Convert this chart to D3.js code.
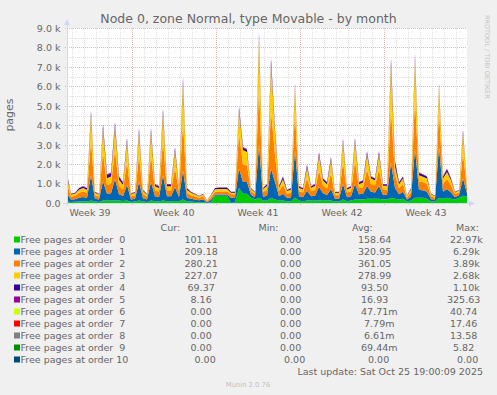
<!DOCTYPE html>
<html>
<head>
<meta charset="utf-8">
<script src="https://cdn.jsdelivr.net/npm/d3@7"></script>
<style>
  body { margin: 0; background: #f0f0f0; }
  svg { display: block; font-family: "DejaVu Sans", sans-serif; }
  text { fill: #666; white-space: pre; }
</style>
</head>
<body>
<svg width="497" height="395"></svg>
<script>
// one sample every 8 hours, starting at the left edge of the graph
const startTime = new Date(Date.UTC(2025, 8, 23, 14));
const endTime = new Date(Date.UTC(2025, 9, 26, 22));
const stepHours = 8;

// free pages per order (pages)
const order0 = [
  100, 80, 90, 100, 120, 100, 150, 100, 80, 150,
  150, 150, 150, 150, 130, 150, 80, 100, 150, 100,
  80, 150, 120, 120, 150, 120, 120, 130, 120, 200,
  100, 100, 80, 70, 80, 30, 80, 400, 400, 400,
  400, 20, 50, 800, 500, 500, 300, 200, 300, 150,
  150, 300, 200, 150, 150, 120, 120, 300, 150, 120,
  150, 150, 150, 150, 180, 160, 150, 100, 100, 200,
  120, 150, 200, 200, 200, 250, 250, 250, 250, 200,
  200, 300, 250, 200, 250, 100, 150, 300, 300, 300,
  250, 100, 100, 300, 250, 300, 250, 200, 300, 400,
  350
];
const order1 = [
  400, 120, 130, 200, 220, 200, 1300, 150, 120, 1000,
  350, 380, 1100, 330, 260, 800, 120, 150, 950, 170,
  120, 950, 250, 220, 1300, 250, 250, 700, 220, 1500,
  200, 150, 120, 100, 120, 40, 110, 60, 60, 60,
  60, 280, 250, 1000, 600, 600, 150, 120, 2700, 200,
  250, 1500, 900, 220, 350, 170, 200, 2400, 220, 200,
  500, 220, 250, 700, 350, 280, 600, 150, 150, 800,
  200, 220, 800, 280, 300, 650, 350, 320, 650, 250,
  250, 1800, 550, 280, 350, 100, 200, 2500, 400, 380,
  350, 120, 100, 2600, 350, 450, 320, 120, 130, 900,
  180
];
const order2 = [
  500, 160, 170, 250, 280, 250, 1800, 180, 160, 1500,
  450, 480, 1500, 420, 330, 1200, 160, 180, 1400, 220,
  160, 1400, 300, 280, 1800, 300, 300, 1000, 280, 2500,
  250, 180, 160, 120, 160, 40, 140, 150, 160, 160,
  160, 180, 180, 1800, 900, 850, 180, 150, 3000, 250,
  300, 3000, 1400, 260, 450, 210, 240, 2000, 260, 240,
  650, 260, 300, 850, 400, 330, 800, 180, 180, 1150,
  240, 260, 1200, 300, 340, 850, 400, 370, 850, 270,
  270, 2800, 650, 300, 400, 100, 230, 2600, 450, 420,
  400, 150, 100, 1900, 400, 520, 370, 150, 150, 1300,
  200
];
const order3 = [
  350, 100, 110, 160, 180, 160, 1320, 120, 100, 1220,
  350, 380, 1220, 320, 250, 1050, 100, 120, 1170, 150,
  100, 1170, 220, 180, 1400, 220, 220, 900, 180, 2020,
  160, 120, 100, 80, 100, 30, 90, 120, 120, 120,
  120, 70, 70, 1200, 750, 700, 120, 100, 2470, 150,
  200, 2380, 1200, 180, 300, 140, 160, 1300, 180, 160,
  550, 180, 200, 780, 250, 220, 700, 120, 120, 1020,
  160, 180, 1020, 210, 240, 780, 280, 250, 780, 190,
  190, 2280, 450, 210, 280, 70, 150, 2020, 300, 280,
  280, 100, 70, 1200, 280, 350, 250, 90, 90, 1020,
  130
];
const order4 = [
  120, 30, 40, 70, 80, 70, 180, 40, 30, 180,
  150, 160, 180, 130, 100, 150, 30, 40, 180, 50,
  30, 180, 80, 80, 200, 80, 80, 130, 80, 220,
  70, 40, 30, 20, 30, 10, 30, 70, 80, 80,
  80, 50, 50, 150, 120, 120, 40, 25, 250, 40,
  80, 250, 150, 70, 120, 50, 60, 150, 70, 60,
  120, 70, 80, 130, 100, 90, 120, 40, 40, 140,
  60, 70, 140, 90, 100, 130, 100, 90, 130, 70,
  70, 250, 250, 90, 100, 30, 60, 220, 120, 100,
  100, 30, 30, 150, 100, 140, 90, 30, 30, 140,
  30
];
const order5 = [
  30, 10, 10, 20, 20, 20, 50, 10, 10, 50,
  50, 50, 50, 50, 30, 50, 10, 10, 50, 10,
  10, 50, 30, 20, 50, 30, 30, 40, 20, 60,
  20, 10, 10, 10, 10, 0, 0, 0, 0, 0,
  0, 0, 0, 50, 30, 30, 10, 5, 80, 10,
  20, 70, 50, 20, 30, 10, 20, 50, 20, 20,
  30, 20, 20, 40, 20, 20, 30, 10, 10, 40,
  20, 20, 40, 20, 20, 40, 20, 20, 40, 20,
  20, 70, 50, 20, 20, 0, 10, 60, 30, 20,
  20, 0, 0, 50, 20, 40, 20, 10, 0, 40,
  10
];
// orders 6 to 10 stay at zero for the whole month

const seriesNames = [
  "Free pages at order  0", "Free pages at order  1", "Free pages at order  2",
  "Free pages at order  3", "Free pages at order  4", "Free pages at order  5",
  "Free pages at order  6", "Free pages at order  7", "Free pages at order  8",
  "Free pages at order  9", "Free pages at order 10"
];
const seriesColors = [
  "#00cc00", "#0066b3", "#ff8000", "#ffcc00", "#330099", "#990099",
  "#ccff00", "#ff0000", "#808080", "#008f00", "#00487d"
];
const curValues = ["101.11", "209.18", "280.21", "227.07", " 69.37", "  8.16",
  "  0.00", "  0.00", "  0.00", "  0.00", "  0.00"];
const minValues = ["  0.00", "  0.00", "  0.00", "  0.00", "  0.00", "  0.00",
  "  0.00", "  0.00", "  0.00", "  0.00", "  0.00"];
const avgValues = ["158.64", "320.95", "361.05", "278.99", " 93.50", " 16.93",
  " 47.71m", "  7.79m", "  6.61m", " 69.44m", "  0.00"];
const maxValues = [" 22.97k", "  6.29k", "  3.89k", "  2.68k", "  1.10k", "325.63",
  " 40.74", " 17.46", " 13.58", "  5.82", "  0.00"];

const yTicks = [0, 1000, 2000, 3000, 4000, 5000, 6000, 7000, 8000, 9000];
const yTickLabels = ["0.0", "1.0 k", "2.0 k", "3.0 k", "4.0 k", "5.0 k",
  "6.0 k", "7.0 k", "8.0 k", "9.0 k"];
const weekLabels = ["Week 39", "Week 40", "Week 41", "Week 42", "Week 43"];

const svg = d3.select("svg");

const x = d3.scaleUtc().domain([startTime, endTime]).range([67, 467]);
const y = d3.scaleLinear().domain([0, 9000]).range([203.5, 28.5]);

// table for the stack
const stacked = [order0, order1, order2, order3, order4, order5];
const keys = seriesNames.slice(0, stacked.length);
const table = order0.map((v, i) => {
  const row = { time: d3.utcHour.offset(startTime, i * stepHours) };
  keys.forEach((k, j) => { row[k] = stacked[j][i]; });
  return row;
});
const series = d3.stack().keys(keys)(table);

// canvas
svg.append("rect")
  .attr("x", 67).attr("y", 28)
  .attr("width", 400).attr("height", 175.5)
  .attr("fill", "#fff");

// grid
const majorGrid = "#ebb4b4", minorGrid = "#dddddd";
const grid = svg.append("g").attr("shape-rendering", "crispEdges").attr("stroke-dasharray", "1,1");
const days = d3.utcDay.range(startTime, endTime);
const mondays = d3.utcMonday.range(startTime, endTime);
grid.selectAll(".vgrid").data(days).join("line")
  .attr("x1", d => x(d)).attr("x2", d => x(d))
  .attr("y1", 28).attr("y2", 205.5)
  .attr("stroke", d => d3.utcMonday(d) - d === 0 ? majorGrid : minorGrid);
const yMinor = d3.range(500, 9001, 500);
grid.selectAll(".hgrid").data(yMinor).join("line")
  .attr("x1", 65).attr("x2", 467)
  .attr("y1", d => y(d)).attr("y2", d => y(d))
  .attr("stroke", d => d % 1000 === 0 ? majorGrid : minorGrid);

// stacked areas
const area = d3.area()
  .x(d => x(d.data.time))
  .y0(d => y(d[0]))
  .y1(d => y(d[1]));
svg.append("g").selectAll("path").data(series).join("path")
  .attr("d", area)
  .attr("fill", (d, i) => seriesColors[i]);

// axes with arrows
const axisColor = "#cfd6f8";
svg.append("line").attr("x1", 67).attr("x2", 67).attr("y1", 206).attr("y2", 24)
  .attr("stroke", axisColor).attr("shape-rendering", "crispEdges");
svg.append("line").attr("x1", 63).attr("x2", 470).attr("y1", 203.5).attr("y2", 203.5)
  .attr("stroke", axisColor).attr("shape-rendering", "crispEdges");
svg.append("path").attr("d", "M64,25 L67,19 L70,25 Z").attr("fill", axisColor);
svg.append("path").attr("d", "M469,200.5 L475,203.5 L469,206.5 Z").attr("fill", axisColor);

// y labels
svg.append("g").selectAll("text").data(yTicks).join("text")
  .attr("x", 60.5).attr("y", d => y(d)).attr("dy", "0.36em")
  .attr("text-anchor", "end").attr("font-size", "9.5px")
  .text((d, i) => yTickLabels[i]);

// week labels, centred in their week
svg.append("g").selectAll("text").data(weekLabels).join("text")
  .attr("x", (d, i) => x(d3.utcHour.offset(d3.utcMonday.offset(mondays[0], i - 1), 84)))
  .attr("y", 216).attr("text-anchor", "middle").attr("font-size", "9.5px")
  .text(d => d);

// titles
svg.append("text").attr("x", 248.5).attr("y", 23).attr("text-anchor", "middle")
  .attr("font-size", "12.5px").text("Node 0, zone Normal, type Movable - by month");
svg.append("text").attr("transform", "translate(12.5,115) rotate(-90)")
  .attr("text-anchor", "middle").attr("font-size", "11px").text("pages");
svg.append("text").attr("transform", "translate(485,15) rotate(90)")
  .attr("font-size", "6.5px").style("fill", "#c4c4c4").text("RRDTOOL / TOBI OETIKER");

// legend
const cols = [
  { head: "Cur:", hx: 160.5, vx: 184.5, vals: curValues },
  { head: "Min:", hx: 258.5, vx: 274, vals: minValues },
  { head: "Avg:", hx: 352, vx: 358, vals: avgValues },
  { head: "Max:", hx: 456, vx: 447, vals: maxValues }
];
const legend = svg.append("g").attr("font-size", "9.5px");
legend.selectAll(".head").data(cols).join("text")
  .attr("x", d => d.hx).attr("y", 231).text(d => d.head);
const rows = legend.selectAll(".row").data(seriesNames).join("g")
  .attr("transform", (d, i) => `translate(0,${243 + i * 12})`);
rows.append("rect").attr("x", 14).attr("y", -6.5).attr("width", 6).attr("height", 6)
  .attr("fill", (d, i) => seriesColors[i]);
rows.append("text").attr("x", 20.5).text(d => d);
cols.forEach(c => {
  rows.append("text")
    .attr("x", (d, i) => c.vx + (i === 10 ? 4 : 0))
    .text((d, i) => c.vals[i]);
});

svg.append("text").attr("x", 483).attr("y", 375).attr("text-anchor", "end")
  .attr("font-size", "9.5px").text("Last update: Sat Oct 25 19:00:09 2025");
svg.append("text").attr("x", 248).attr("y", 387).attr("text-anchor", "middle")
  .attr("font-size", "6.8px").style("fill", "#c0c0c0").text("Munin 2.0.76");
</script>
</body>
</html>
